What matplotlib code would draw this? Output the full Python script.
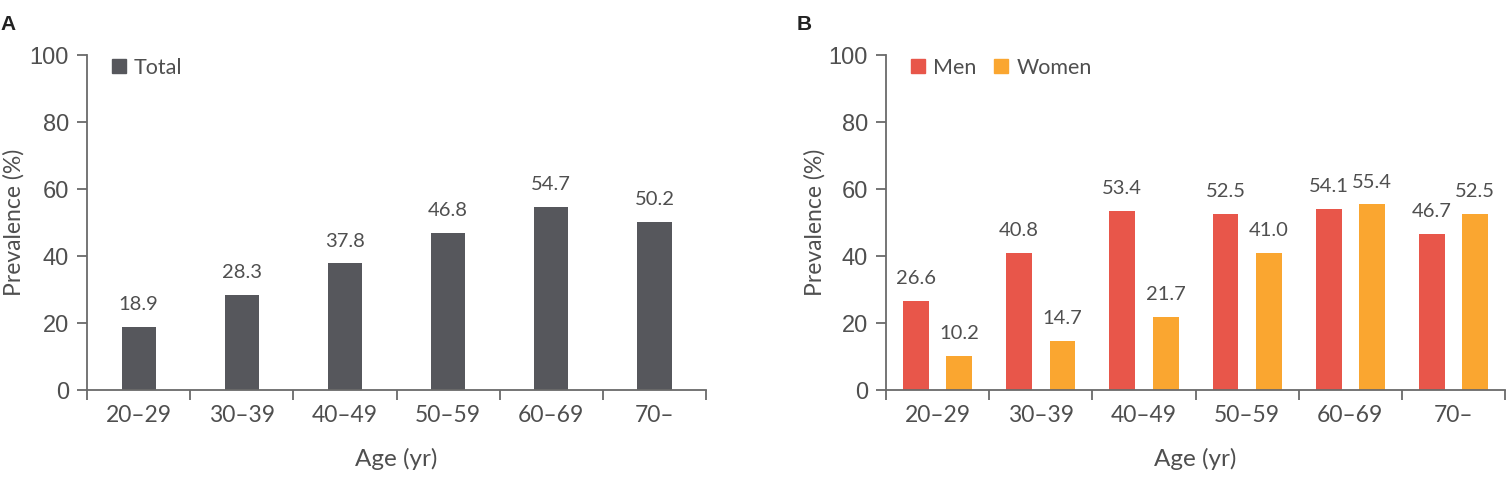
import matplotlib.pyplot as plt
from matplotlib.lines import Line2D
import numpy as np

ages = ['20\u201329', '30\u201339', '40\u201349', '50\u201359', '60\u201369', '70\u2013']
total = [18.9, 28.3, 37.8, 46.8, 54.7, 50.2]
men = [26.6, 40.8, 53.4, 52.5, 54.1, 46.7]
women = [10.2, 14.7, 21.7, 41.0, 55.4, 52.5]

c_total = '#56575c'
c_men = '#e8564a'
c_women = '#faa630'
c_text = '#4f4f4f'
c_axis = '#6a6a6a'
lab_font = 'Lato'

fig = plt.figure(figsize=(15.11, 4.83), dpi=100)
axA = fig.add_axes([0.0576, 0.1925, 0.4097, 0.6936])
axB = fig.add_axes([0.5864, 0.1925, 0.4097, 0.6936])

x = np.arange(len(ages))


def style(ax, ylab_x):
    ax.set_xlim(-0.5, len(ages) - 0.5)
    ax.set_ylim(0, 100)
    ax.spines['top'].set_visible(False)
    ax.spines['right'].set_visible(False)
    for s in ['left', 'bottom']:
        ax.spines[s].set_color(c_axis)
        ax.spines[s].set_linewidth(1.3)
    ax.set_yticks([0, 20, 40, 60, 80, 100])
    ax.tick_params(axis='y', length=7, width=1.3, color=c_axis, labelcolor=c_text,
                   labelsize=17, pad=6)
    for t in ax.get_yticklabels():
        t.set_family('Liberation Sans')
    ax.set_xticks(x)
    ax.set_xticklabels(ages, family=lab_font, fontsize=16.5, color=c_text)
    ax.set_xticks(np.arange(-0.5, len(ages)), minor=True)
    ax.tick_params(axis='x', which='major', length=0, pad=11)
    ax.tick_params(axis='x', which='minor', length=7, width=1.3, color=c_axis)
    ax.set_xlabel('Age (yr)', family=lab_font, fontsize=17.5, color=c_text)
    ax.xaxis.set_label_coords(0.5, -0.172)
    ax.set_ylabel('Prevalence (%)', family=lab_font, fontsize=16.5, color=c_text)
    ax.yaxis.set_label_coords(ylab_x, 0.5)


def labels(ax, xs, vals):
    for xi, v in zip(xs, vals):
        ax.annotate(f'{v:.1f}', (xi, v), xytext=(0, 10), textcoords='offset points',
                    ha='center', va='bottom', family=lab_font, fontsize=14.5, color=c_text)


# panel A
axA.bar(x, total, width=0.33, color=c_total)
labels(axA, x, total)
style(axA, -0.101)
axA.legend(handles=[Line2D([], [], marker='s', ls='', color=c_total, markersize=9.5, label='Total')],
           loc='upper left', bbox_to_anchor=(0.008, 1.049), frameon=False,
           handlelength=0.7, handletextpad=0.35, prop={'family': lab_font, 'size': 15.5},
           labelcolor=c_text)

# panel B
off = 0.21
axB.bar(x - off, men, width=0.25, color=c_men)
axB.bar(x + off, women, width=0.25, color=c_women)
labels(axB, x - off, men)
labels(axB, x + off, women)
style(axB, -0.097)
axB.legend(handles=[Line2D([], [], marker='s', ls='', color=c_men, markersize=9.5, label='Men'),
                    Line2D([], [], marker='s', ls='', color=c_women, markersize=9.5, label='Women')],
           loc='upper left', bbox_to_anchor=(0.008, 1.049), frameon=False, ncol=2,
           handlelength=0.7, handletextpad=0.35, columnspacing=0.8,
           prop={'family': lab_font, 'size': 15.5}, labelcolor=c_text)

fig.text(0.0, 0.95, 'A', fontsize=15, fontweight='bold', family='Liberation Sans',
         color='#222222', va='center')
fig.text(0.527, 0.95, 'B', fontsize=15, fontweight='bold', family='Liberation Sans',
         color='#222222', va='center')

fig.savefig('out.png', dpi=100)
